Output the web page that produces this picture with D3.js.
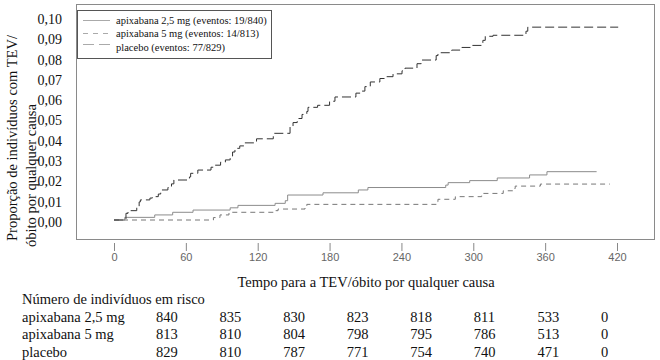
<!DOCTYPE html>
<html><head><meta charset="utf-8">
<script src="https://cdn.jsdelivr.net/npm/d3@7"></script>
<style>
html,body{margin:0;padding:0;background:#fff;}
svg{display:block;}
</style></head>
<body><svg id="c" width="660" height="360"></svg>
<script>
// ---- data ----
const seriesNames = ["apixabana 2,5 mg", "apixabana 5 mg", "placebo"];
const legendLabels = ["apixabana 2,5 mg (eventos: 19/840)", "apixabana 5 mg (eventos: 14/813)", "placebo (eventos: 77/829)"];
const xTicks = [0, 60, 120, 180, 240, 300, 360, 420];
const yTicks = [0, 0.01, 0.02, 0.03, 0.04, 0.05, 0.06, 0.07, 0.08, 0.09, 0.10];
// [time, cumulative proportion]
const apix25Curve = [[0,0],[9,0.0013],[34,0.0025],[49,0.0038],[66,0.0049],[97,0.006],[103.5,0.0072],[134.5,0.0082],[143,0.0095],[145,0.0123],[174.5,0.0134],[204,0.0148],[212,0.016],[277,0.0172],[279,0.0184],[297,0.0194],[320,0.0207],[347,0.0222],[361.5,0.0238],[403,0.0238]];
const apix5Curve = [[0,0],[83,0.0012],[88.5,0.0025],[96,0.0038],[134.5,0.0046],[137,0.0054],[159.5,0.0066],[161,0.0077],[270,0.009],[270.5,0.0102],[285,0.0115],[307,0.0131],[325,0.0144],[333,0.0155],[335,0.0167],[356,0.0177],[414,0.0177]];
const placeboCurve = [[0,0],[10,0.0033],[11.7,0.0046],[19,0.0065],[21,0.0089],[22,0.0099],[30,0.0108],[32,0.0115],[37,0.0128],[39,0.0148],[45,0.016],[48,0.0178],[50,0.0197],[63,0.0212],[64,0.023],[70,0.0246],[81,0.026],[83.5,0.027],[89,0.0285],[93,0.0296],[97,0.0315],[99,0.0335],[101,0.0353],[105,0.0365],[108.5,0.038],[119,0.040],[133,0.0427],[147,0.046],[149.5,0.048],[153,0.050],[157,0.052],[161,0.0535],[162,0.0555],[170,0.0565],[180,0.0585],[184.5,0.0606],[202,0.0625],[207,0.0635],[209.5,0.0657],[214,0.068],[222,0.0697],[226,0.0706],[233,0.072],[240.5,0.0735],[243,0.0748],[253,0.077],[256.5,0.0788],[269,0.081],[270.5,0.0824],[282,0.0837],[290.5,0.085],[299,0.086],[308,0.0885],[310,0.0905],[316.5,0.091],[344,0.093],[345.5,0.095],[421,0.095]];
const riskTitle = "Número de indivíduos em risco";
const riskApix25 = [840, 835, 830, 823, 818, 811, 533, 0];
const riskApix5 = [813, 810, 804, 798, 795, 786, 513, 0];
const riskPlacebo = [829, 810, 787, 771, 754, 740, 471, 0];
const xTitle = "Tempo para a TEV/óbito por qualquer causa";
const yTitle1 = "Proporção de indivíduos com TEV/";
const yTitle2 = "óbito por qualquer causa";

// ---- drawing ----
const svg = d3.select("#c");
const serif = "'Liberation Serif','Times New Roman',serif";
const x = d3.scaleLinear().domain([0, 420]).range([114, 617]);
const y = d3.scaleLinear().domain([0, 0.1]).range([220, 17]);

// plot box
svg.append("rect").attr("x", 76.5).attr("y", 4.5).attr("width", 578).attr("height", 235)
  .attr("fill", "none").attr("stroke", "#8a8a8a").attr("stroke-width", 1);

// x axis (ticks only)
const gx = svg.append("g").attr("transform", "translate(0,243)")
  .call(d3.axisBottom(x).tickValues(xTicks).tickSize(8).tickPadding(2).tickFormat(d3.format("d")));
gx.select(".domain").remove();
gx.selectAll(".tick line").attr("stroke", "#888");
gx.selectAll(".tick text").attr("fill", "#666").style("font-family", "'Liberation Sans',Arial,sans-serif").style("font-size", "11px");

// y axis labels
const loc = d3.formatLocale({decimal: ",", thousands: ".", grouping: [3], currency: ["", ""]});
const gy = svg.append("g").attr("transform", "translate(62,2)")
  .call(d3.axisLeft(y).tickValues(yTicks).tickSize(0).tickPadding(0).tickFormat(loc.format(".2f")));
gy.select(".domain").remove();
gy.selectAll(".tick text").attr("fill", "#111").style("font-family", serif).style("font-size", "14px");

// curves
const line = d3.line().x(d => x(d[0])).y(d => y(d[1])).curve(d3.curveStepAfter);
const styles = [
  {data: apix25Curve, stroke: "#8c8c8c", dash: null},
  {data: apix5Curve, stroke: "#777", dash: "5,4"},
  {data: placeboCurve, stroke: "#333", dash: "9,4"}
];
styles.forEach(s => {
  svg.append("path").attr("d", line(s.data)).attr("fill", "none")
    .attr("stroke", s.stroke).attr("stroke-width", 1)
    .attr("stroke-dasharray", s.dash);
});

// legend
svg.append("rect").attr("x", 77.5).attr("y", 10.5).attr("width", 194).attr("height", 48)
  .attr("fill", "#fff").attr("stroke", "#555").attr("stroke-width", 1);
const legY = [20.5, 33.5, 44.5];
const legTextY = [24, 37, 51];
const legDash = [null, "5,5", "11,5"];
legendLabels.forEach((lab, i) => {
  svg.append("line").attr("x1", 83).attr("x2", 110).attr("y1", legY[i]).attr("y2", legY[i])
    .attr("stroke", "#aaa").attr("stroke-width", 1).attr("stroke-dasharray", legDash[i]);
  svg.append("text").attr("x", 116).attr("y", legTextY[i]).text(lab)
    .style("font-family", serif).style("font-size", "10.5px").attr("fill", "#111");
});

// axis titles
svg.append("text").attr("x", 366).attr("y", 287).attr("text-anchor", "middle").text(xTitle)
  .style("font-family", serif).style("font-size", "14.5px").attr("fill", "#111");
svg.append("text").attr("transform", "translate(17,241) rotate(-90)").text(yTitle1)
  .style("font-family", serif).style("font-size", "14.5px").attr("fill", "#111");
svg.append("text").attr("transform", "translate(36,247) rotate(-90)").text(yTitle2)
  .style("font-family", serif).style("font-size", "14.5px").attr("fill", "#111");

// risk table
const colX = d3.scaleLinear().domain([0, 7]).range([156, 601]);
svg.append("text").attr("x", 22).attr("y", 304).text(riskTitle)
  .style("font-family", serif).style("font-size", "14.5px").attr("fill", "#111");
const rows = [riskApix25, riskApix5, riskPlacebo];
const rowY = [322, 339, 357];
rows.forEach((r, i) => {
  svg.append("text").attr("x", 22).attr("y", rowY[i]).text(seriesNames[i])
    .style("font-family", serif).style("font-size", "14.5px").attr("fill", "#111");
  r.forEach((v, j) => {
    svg.append("text").attr("x", colX(j)).attr("y", rowY[i]).text(v)
      .style("font-family", serif).style("font-size", "14.5px").attr("fill", "#111");
  });
});
</script>
</body></html>
